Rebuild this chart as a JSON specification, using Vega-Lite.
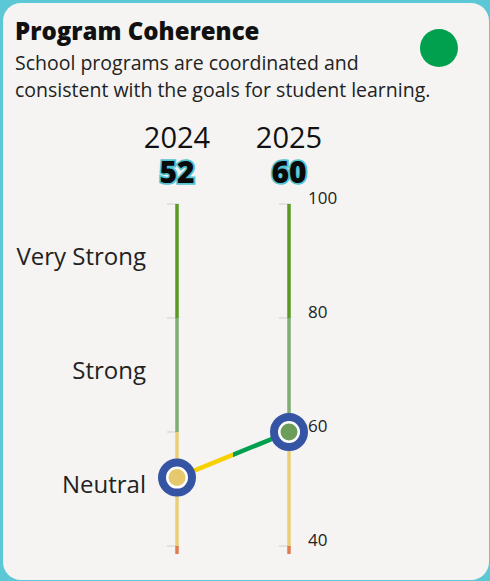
{
  "$schema": "https://vega.github.io/schema/vega-lite/v6.json",
  "width": 490,
  "height": 581,
  "autosize": {"type": "fit", "contains": "padding"},
  "padding": {"left": 3, "top": 3, "right": 1, "bottom": 1},
  "background": "#5cc8d6",
  "config": {"view": {"fill": "#f5f4f2", "stroke": null, "cornerRadius": 18}, "font": "Open Sans"},
  "title": {
    "text": "Program Coherence",
    "subtitle": ["School programs are coordinated and", "consistent with the goals for student learning."],
    "anchor": "start",
    "frame": "group",
    "orient": "top",
    "offset": -97,
    "dx": 12,
    "font": "Open Sans",
    "fontSize": 24,
    "fontWeight": 800,
    "color": "#111111",
    "subtitleFont": "Open Sans",
    "subtitleFontSize": 19.5,
    "subtitleColor": "#222222",
    "subtitleLineHeight": 27,
    "subtitlePadding": 10
  },
  "datasets": {
    "bands": [
      {"band": "Very Strong", "lo": 80, "hi": 100},
      {"band": "Strong", "lo": 60, "hi": 80},
      {"band": "Neutral", "lo": 40, "hi": 60},
      {"band": "Weak", "lo": 38.6, "hi": 40}
    ],
    "years": [{"year": 2024}, {"year": 2025}],
    "scores": [
      {"year": 2024, "score": 52, "zone": "Neutral"},
      {"year": 2025, "score": 60, "zone": "Strong"}
    ],
    "ticks": [{"v": 100}, {"v": 80}, {"v": 60}, {"v": 40}],
    "labels": [
      {"label": "Very Strong", "at": 90},
      {"label": "Strong", "at": 70},
      {"label": "Neutral", "at": 50}
    ],
    "status": [{"status": "on track"}]
  },
  "layer": [
    {
      "data": {"name": "ticks"},
      "mark": {"type": "tick", "orient": "horizontal", "size": 12, "thickness": 1.5, "color": "#d2d2d2", "xOffset": -4},
      "encoding": {
        "x": {"datum": 2024, "type": "quantitative", "scale": {"domain": [2022.4464, 2026.7857], "zero": false, "nice": false}, "axis": null},
        "y": {"field": "v", "type": "quantitative", "scale": {"domain": [34.035, 135.263], "zero": false, "nice": false}, "axis": null}
      }
    },
    {
      "data": {"name": "ticks"},
      "mark": {"type": "tick", "orient": "horizontal", "size": 12, "thickness": 1.5, "color": "#d2d2d2", "xOffset": -4},
      "encoding": {
        "x": {"datum": 2025, "type": "quantitative"},
        "y": {"field": "v", "type": "quantitative"}
      }
    },
    {
      "data": {"name": "bands"},
      "mark": {"type": "rule", "strokeWidth": 3.5},
      "encoding": {
        "x": {"datum": 2024, "type": "quantitative"},
        "y": {"field": "lo", "type": "quantitative"},
        "y2": {"field": "hi"},
        "color": {"field": "band", "type": "nominal", "scale": {"domain": ["Very Strong", "Strong", "Neutral", "Weak"], "range": ["#5b9a22", "#80ad72", "#e8cf78", "#e07b50"]}, "legend": null}
      }
    },
    {
      "data": {"name": "bands"},
      "mark": {"type": "rule", "strokeWidth": 3.5},
      "encoding": {
        "x": {"datum": 2025, "type": "quantitative"},
        "y": {"field": "lo", "type": "quantitative"},
        "y2": {"field": "hi"},
        "color": {"field": "band", "type": "nominal", "legend": null}
      }
    },
    {
      "data": {"name": "scores"},
      "mark": {
        "type": "line",
        "strokeWidth": 4.5,
        "stroke": {
          "gradient": "linear", "x1": 0, "y1": 0, "x2": 1, "y2": 0,
          "stops": [
            {"offset": 0, "color": "#f7d000"},
            {"offset": 0.5, "color": "#f7d000"},
            {"offset": 0.5, "color": "#00a04e"},
            {"offset": 1, "color": "#00a04e"}
          ]
        }
      },
      "encoding": {
        "x": {"field": "year", "type": "quantitative"},
        "y": {"field": "score", "type": "quantitative"}
      }
    },
    {
      "data": {"name": "scores"},
      "mark": {"type": "point", "shape": "circle", "size": 900, "filled": false, "fill": "#ffffff", "stroke": "#3654a4", "strokeWidth": 8, "opacity": 1, "fillOpacity": 1},
      "encoding": {
        "x": {"field": "year", "type": "quantitative"},
        "y": {"field": "score", "type": "quantitative"}
      }
    },
    {
      "data": {"name": "scores"},
      "mark": {"type": "point", "shape": "circle", "size": 290, "filled": true, "opacity": 1, "strokeWidth": 0},
      "encoding": {
        "x": {"field": "year", "type": "quantitative"},
        "y": {"field": "score", "type": "quantitative"},
        "fill": {"field": "zone", "type": "nominal", "scale": {"domain": ["Neutral", "Strong"], "range": ["#e5c96c", "#6c9d5b"]}, "legend": null}
      }
    },
    {
      "data": {"name": "years"},
      "mark": {"type": "text", "fontSize": 29, "color": "#111111", "baseline": "alphabetic", "align": "center"},
      "encoding": {
        "x": {"field": "year", "type": "quantitative"},
        "y": {"datum": 109.9, "type": "quantitative"},
        "text": {"field": "year", "type": "nominal"}
      }
    },
    {
      "data": {"name": "scores"},
      "mark": {"type": "text", "fontSize": 30, "fontWeight": 800, "fill": "#52c3d3", "stroke": "#52c3d3", "strokeWidth": 3.5, "baseline": "alphabetic", "align": "center"},
      "encoding": {
        "x": {"field": "year", "type": "quantitative"},
        "y": {"datum": 103.7, "type": "quantitative"},
        "text": {"field": "score", "type": "nominal"}
      }
    },
    {
      "data": {"name": "scores"},
      "mark": {"type": "text", "fontSize": 30, "fontWeight": 800, "color": "#0a0a0a", "baseline": "alphabetic", "align": "center"},
      "encoding": {
        "x": {"field": "year", "type": "quantitative"},
        "y": {"datum": 103.7, "type": "quantitative"},
        "text": {"field": "score", "type": "nominal"}
      }
    },
    {
      "data": {"name": "ticks"},
      "mark": {"type": "text", "fontSize": 17, "color": "#222222", "align": "left", "baseline": "middle", "dx": 19, "dy": -5},
      "encoding": {
        "x": {"datum": 2025, "type": "quantitative"},
        "y": {"field": "v", "type": "quantitative"},
        "text": {"field": "v", "type": "nominal"}
      }
    },
    {
      "data": {"name": "labels"},
      "mark": {"type": "text", "fontSize": 24, "color": "#222222", "align": "right", "baseline": "middle", "dx": -31, "dy": -3},
      "encoding": {
        "x": {"datum": 2024, "type": "quantitative"},
        "y": {"field": "at", "type": "quantitative"},
        "text": {"field": "label", "type": "nominal"}
      }
    },
    {
      "data": {"name": "status"},
      "mark": {"type": "point", "shape": "circle", "filled": true, "size": 1444, "color": "#00a04e", "opacity": 1},
      "encoding": {
        "x": {"datum": 2026.339, "type": "quantitative"},
        "y": {"datum": 127.37, "type": "quantitative"}
      }
    }
  ]
}
